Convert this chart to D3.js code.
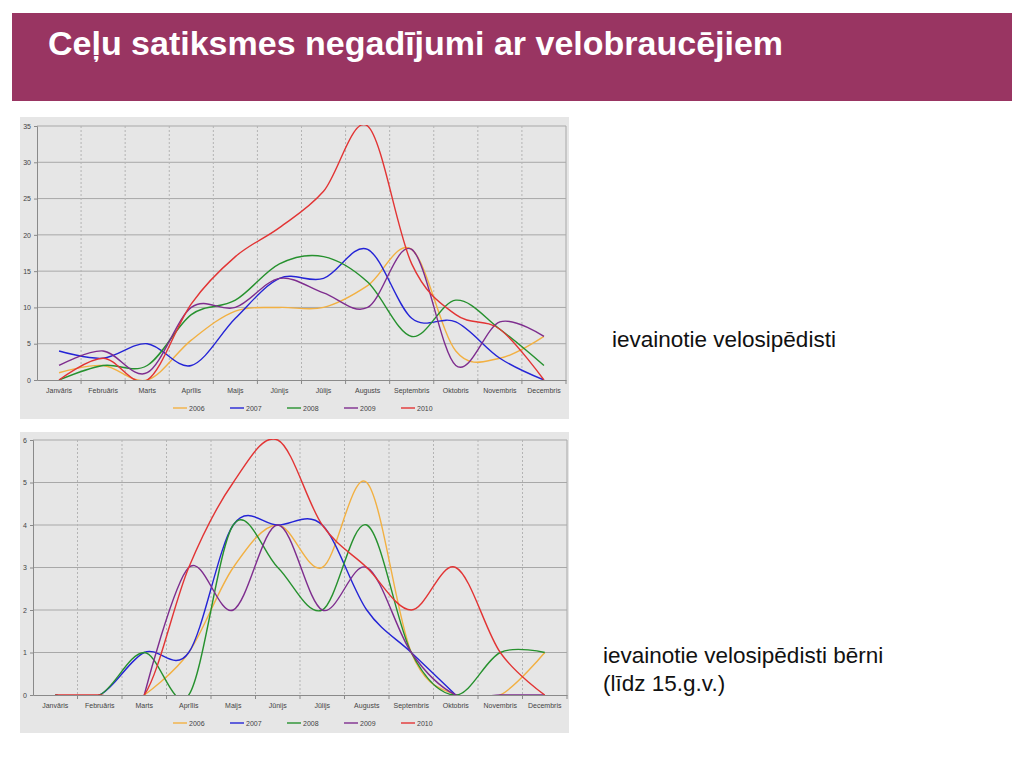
<!DOCTYPE html>
<html>
<head>
<meta charset="utf-8">
<script src="https://cdn.jsdelivr.net/npm/d3@7"></script>
<style>
  body { margin: 0; background: #fff; }
  svg { font-family: "Liberation Sans", Arial, sans-serif; }
</style>
</head>
<body>
<svg id="slide" width="1024" height="768"></svg>
<script>
// months and years
var months = ['Janvāris', 'Februāris', 'Marts', 'Aprīlis', 'Maijs', 'Jūnijs',
  'Jūlijs', 'Augusts', 'Septembris', 'Oktobris', 'Novembris', 'Decembris'];
var years = ['2006', '2007', '2008', '2009', '2010'];
var yearColors = ['#f2b042', '#2424d6', '#26912e', '#7e2d8e', '#e23434'];

// ievainotie velosipēdisti
var injured2006 = [1, 2, 0, 5.5, 9.5, 10, 10, 13, 18, 4, 3, 6];
var injured2007 = [4, 3, 5, 2, 8.5, 14, 14, 18, 8.5, 8, 3, 0];
var injured2008 = [0, 2, 2, 9, 11, 16, 17, 13.5, 6, 11, 7, 2];
var injured2009 = [2, 4, 1, 10, 10, 14, 12, 10, 18, 2, 8, 6];
var injured2010 = [0, 3, 0, 10.5, 17, 21, 26, 35, 16, 9, 7, 0];
var injuredTicks = [0, 5, 10, 15, 20, 25, 30, 35];

// ievainotie velosipēdisti bērni
var children2006 = [null, null, 0, 1, 3, 4, 3, 5, 1, 0, 0, 1];
var children2007 = [0, 0, 1, 1, 4, 4, 4, 2, 1, 0, null, null];
var children2008 = [0, 0, 1, 0, 4, 3, 2, 4, 1, 0, 1, 1];
var children2009 = [null, null, 0, 3, 2, 4, 2, 3, 1, 0, 0, 0];
var children2010 = [0, 0, 0, 3, 5, 6, 4, 3, 2, 3, 1, 0];
var childrenTicks = [0, 1, 2, 3, 4, 5, 6];

var svg = d3.select('#slide');

// title bar
svg.append('rect')
  .attr('x', 12).attr('y', 13)
  .attr('width', 1000).attr('height', 88)
  .attr('fill', '#993562');
svg.append('text')
  .attr('x', 48).attr('y', 55)
  .attr('fill', '#fff')
  .attr('font-size', 34)
  .attr('font-weight', 'bold')
  .text('Ceļu satiksmes negadījumi ar velobraucējiem');

function drawChart(opts) {
  var g = svg.append('g');

  g.append('rect')
    .attr('x', opts.panel[0]).attr('y', opts.panel[1])
    .attr('width', opts.panel[2]).attr('height', opts.panel[3])
    .attr('fill', '#e6e6e6');

  var x = d3.scaleBand().domain(months).range([opts.left, opts.right]);
  var y = d3.scaleLinear().domain([0, d3.max(opts.ticks)]).range([opts.bottom, opts.top]);
  var cx = function(i) { return x(months[i]) + x.bandwidth() / 2; };

  // horizontal grid
  g.selectAll('.hgrid').data(opts.ticks.slice(1)).enter()
    .append('line')
    .attr('x1', opts.left).attr('x2', opts.right)
    .attr('y1', function(d) { return y(d); }).attr('y2', function(d) { return y(d); })
    .attr('stroke', '#a8a8a8').attr('stroke-width', 1);

  // vertical dotted grid at band edges
  var edges = months.slice(1).map(function(m) { return x(m); });
  g.selectAll('.vgrid').data(edges).enter()
    .append('line')
    .attr('x1', function(d) { return d; }).attr('x2', function(d) { return d; })
    .attr('y1', opts.top).attr('y2', opts.bottom)
    .attr('stroke', '#b4b4b4').attr('stroke-dasharray', '2,2');

  // right border
  g.append('line')
    .attr('x1', opts.right).attr('x2', opts.right)
    .attr('y1', opts.top).attr('y2', opts.bottom)
    .attr('stroke', '#a8a8a8');

  // series lines, clipped to the plot area
  var clipId = 'clip-' + opts.name;
  g.append('clipPath').attr('id', clipId)
    .append('rect')
    .attr('x', opts.left).attr('y', opts.top - 1)
    .attr('width', opts.right - opts.left).attr('height', opts.bottom - opts.top + 1);

  var line = d3.line()
    .defined(function(d) { return d != null; })
    .x(function(d, i) { return cx(i); })
    .y(function(d) { return y(d); })
    .curve(d3.curveCardinal.tension(0));

  g.append('g').attr('clip-path', 'url(#' + clipId + ')')
    .selectAll('path').data(opts.series).enter()
    .append('path')
    .attr('d', function(d) { return line(d); })
    .attr('fill', 'none')
    .attr('stroke', function(d, i) { return yearColors[i]; })
    .attr('stroke-width', 1.4);

  // y axis
  var yAxis = g.append('g')
    .attr('transform', 'translate(' + opts.left + ',0)')
    .call(d3.axisLeft(y).tickValues(opts.ticks).tickFormat(d3.format('d')).tickSize(3).tickPadding(3));
  yAxis.select('.domain').attr('stroke', '#8a8a8a');
  yAxis.selectAll('.tick line').attr('stroke', '#8a8a8a');
  yAxis.selectAll('.tick text').attr('fill', '#444').attr('font-size', 7)
    .attr('font-family', '"Liberation Sans", Arial, sans-serif');

  // x axis: labels at band centers, ticks at band edges
  var xAxis = g.append('g')
    .attr('transform', 'translate(0,' + opts.bottom + ')')
    .call(d3.axisBottom(x).tickSize(0).tickPadding(8));
  xAxis.select('.domain').attr('stroke', '#8a8a8a');
  xAxis.selectAll('.tick text').attr('fill', '#444').attr('font-size', 7)
    .attr('font-family', '"Liberation Sans", Arial, sans-serif');
  g.selectAll('.xtick').data(edges.concat([opts.right])).enter()
    .append('line')
    .attr('x1', function(d) { return d; }).attr('x2', function(d) { return d; })
    .attr('y1', opts.bottom).attr('y2', opts.bottom + 4)
    .attr('stroke', '#8a8a8a');

  // legend
  var leg = g.selectAll('.legend').data(years).enter()
    .append('g')
    .attr('transform', function(d, i) { return 'translate(' + (173 + i * 57) + ',' + opts.legendY + ')'; });
  leg.append('line')
    .attr('x1', 0).attr('x2', 14)
    .attr('stroke', function(d, i) { return yearColors[i]; })
    .attr('stroke-width', 1.4);
  leg.append('text')
    .attr('x', 16).attr('y', 2.5)
    .attr('font-size', 7).attr('fill', '#444')
    .text(function(d) { return d; });
}

drawChart({
  name: 'injured',
  panel: [20, 117, 549, 302],
  left: 37, right: 566, top: 126, bottom: 380,
  ticks: injuredTicks,
  series: [injured2006, injured2007, injured2008, injured2009, injured2010],
  legendY: 408
});

drawChart({
  name: 'children',
  panel: [20, 432, 549, 301],
  left: 33, right: 567, top: 440, bottom: 695,
  ticks: childrenTicks,
  series: [children2006, children2007, children2008, children2009, children2010],
  legendY: 723
});

// captions
svg.append('text')
  .attr('x', 612).attr('y', 347)
  .attr('font-size', 22.5).attr('fill', '#111')
  .text('ievainotie velosipēdisti');
svg.append('text')
  .attr('x', 603).attr('y', 663)
  .attr('font-size', 22.5).attr('fill', '#111')
  .text('ievainotie velosipēdisti bērni');
svg.append('text')
  .attr('x', 603).attr('y', 691)
  .attr('font-size', 22.5).attr('fill', '#111')
  .text('(līdz 15.g.v.)');
</script>
</body>
</html>
